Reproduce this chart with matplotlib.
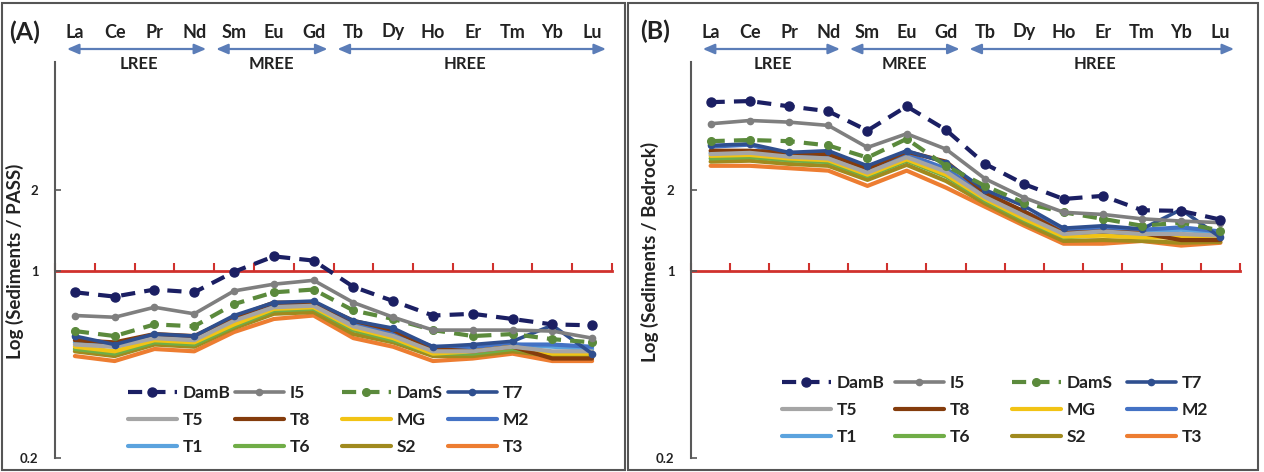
import numpy as np
import matplotlib
matplotlib.use('Agg')
import matplotlib.pyplot as plt
from matplotlib.patches import Rectangle
from matplotlib.transforms import blended_transform_factory

plt.rcParams['font.family'] = ['Lato', 'DejaVu Sans']

elements = ['La', 'Ce', 'Pr', 'Nd', 'Sm', 'Eu', 'Gd', 'Tb', 'Dy', 'Ho', 'Er', 'Tm', 'Yb', 'Lu']
series_names = ['DamB', 'I5', 'DamS', 'T7', 'T5', 'T8', 'MG', 'M2', 'T1', 'T6', 'S2', 'T3']
groups = ['LREE', 'MREE', 'HREE']

# Panel A: Sediments / PASS
a_DamB = [0.83, 0.80, 0.85, 0.83, 0.99, 1.13, 1.09, 0.87, 0.77, 0.68, 0.69, 0.66, 0.63, 0.625]
a_I5   = [0.68, 0.67, 0.73, 0.69, 0.84, 0.89, 0.92, 0.76, 0.67, 0.60, 0.60, 0.60, 0.595, 0.56]
a_DamS = [0.595, 0.57, 0.63, 0.62, 0.75, 0.83, 0.85, 0.71, 0.66, 0.60, 0.57, 0.58, 0.555, 0.54]
a_T7   = [0.57, 0.53, 0.58, 0.57, 0.68, 0.76, 0.77, 0.65, 0.61, 0.52, 0.53, 0.545, 0.625, 0.49]
a_T5   = [0.53, 0.52, 0.56, 0.55, 0.65, 0.73, 0.74, 0.62, 0.57, 0.50, 0.50, 0.52, 0.50, 0.50]
a_T8   = [0.55, 0.54, 0.58, 0.57, 0.67, 0.76, 0.76, 0.65, 0.60, 0.51, 0.50, 0.52, 0.47, 0.47]
a_MG   = [0.52, 0.50, 0.55, 0.54, 0.63, 0.72, 0.73, 0.61, 0.56, 0.49, 0.50, 0.52, 0.49, 0.49]
a_M2   = [0.56, 0.53, 0.57, 0.56, 0.66, 0.74, 0.75, 0.63, 0.59, 0.52, 0.52, 0.53, 0.53, 0.52]
a_T1   = [0.54, 0.52, 0.56, 0.55, 0.65, 0.73, 0.74, 0.62, 0.58, 0.51, 0.51, 0.53, 0.52, 0.51]
a_T6   = [0.51, 0.49, 0.54, 0.53, 0.62, 0.71, 0.72, 0.60, 0.55, 0.49, 0.49, 0.51, 0.49, 0.49]
a_S2   = [0.50, 0.48, 0.53, 0.52, 0.61, 0.69, 0.70, 0.58, 0.54, 0.48, 0.48, 0.50, 0.48, 0.48]
a_T3   = [0.48, 0.46, 0.51, 0.50, 0.59, 0.66, 0.68, 0.56, 0.52, 0.46, 0.47, 0.49, 0.46, 0.46]

# Panel B: Sediments / Bedrock
b_DamB = [4.25, 4.29, 4.10, 3.93, 3.33, 4.10, 3.35, 2.50, 2.10, 1.85, 1.90, 1.68, 1.67, 1.55]
b_I5   = [3.53, 3.63, 3.58, 3.48, 2.88, 3.24, 2.84, 2.20, 1.87, 1.65, 1.62, 1.56, 1.53, 1.51]
b_DamS = [3.04, 3.07, 3.04, 2.93, 2.64, 3.10, 2.46, 2.07, 1.79, 1.65, 1.56, 1.47, 1.51, 1.41]
b_T7   = [2.93, 2.97, 2.76, 2.80, 2.46, 2.80, 2.53, 2.00, 1.74, 1.44, 1.47, 1.43, 1.69, 1.33]
b_T5   = [2.72, 2.75, 2.66, 2.62, 2.32, 2.65, 2.34, 1.88, 1.60, 1.37, 1.40, 1.37, 1.37, 1.35]
b_T8   = [2.80, 2.80, 2.75, 2.72, 2.40, 2.78, 2.55, 1.95, 1.66, 1.38, 1.40, 1.38, 1.30, 1.30]
b_MG   = [2.68, 2.70, 2.62, 2.58, 2.28, 2.60, 2.28, 1.85, 1.56, 1.34, 1.35, 1.33, 1.33, 1.32]
b_M2   = [2.90, 2.95, 2.70, 2.68, 2.38, 2.72, 2.40, 1.92, 1.66, 1.42, 1.44, 1.42, 1.45, 1.40]
b_T1   = [2.75, 2.78, 2.68, 2.65, 2.35, 2.68, 2.36, 1.90, 1.62, 1.40, 1.45, 1.40, 1.42, 1.38]
b_T6   = [2.62, 2.65, 2.58, 2.54, 2.25, 2.57, 2.25, 1.82, 1.54, 1.33, 1.36, 1.33, 1.34, 1.33]
b_S2   = [2.55, 2.57, 2.50, 2.46, 2.18, 2.48, 2.16, 1.78, 1.50, 1.29, 1.30, 1.29, 1.27, 1.28]
b_T3   = [2.46, 2.46, 2.41, 2.36, 2.07, 2.36, 2.04, 1.73, 1.47, 1.26, 1.26, 1.29, 1.24, 1.27]

panel_a = dict(zip(series_names, [a_DamB, a_I5, a_DamS, a_T7, a_T5, a_T8, a_MG, a_M2, a_T1, a_T6, a_S2, a_T3]))
panel_b = dict(zip(series_names, [b_DamB, b_I5, b_DamS, b_T7, b_T5, b_T8, b_MG, b_M2, b_T1, b_T6, b_S2, b_T3]))

styles = {
    'DamB': dict(color='#1B1F63', lw=3.0, dashes=(3.4, 2.2), marker='o', ms=6.5),
    'I5':   dict(color='#7F7F7F', lw=2.6, marker='o', ms=4.5),
    'DamS': dict(color='#5B8A3C', lw=3.0, dashes=(3.4, 2.2), marker='o', ms=5.5),
    'T7':   dict(color='#2F4F8F', lw=2.6, marker='o', ms=4.5),
    'T5':   dict(color='#A5A5A5', lw=3.0),
    'T8':   dict(color='#843C0C', lw=3.0),
    'MG':   dict(color='#F2C314', lw=3.0),
    'M2':   dict(color='#4472C4', lw=3.0),
    'T1':   dict(color='#5BA3DE', lw=3.0),
    'T6':   dict(color='#70AD47', lw=3.0),
    'S2':   dict(color='#A08A1E', lw=3.0),
    'T3':   dict(color='#ED7D31', lw=3.0),
}

W, H = 1264, 472
fig = plt.figure(figsize=(W / 100, H / 100), dpi=100)


def fx(px):
    return px / W


def fy(py):
    return 1 - py / H


def make_panel(left_px, right_px, data, letter, letter_xy, ylabel, ylabel_xy,
               leg_cols_px, leg_rows_px):
    ax = fig.add_axes([fx(left_px), fy(458), fx(right_px - left_px), (458 - 62) / H])
    x = np.arange(len(elements))
    lines = {}
    for name in series_names[::-1]:
        st = dict(styles[name])
        kw = dict(color=st['color'], lw=st['lw'], solid_capstyle='round',
                  solid_joinstyle='round')
        if 'dashes' in st:
            kw['dashes'] = st['dashes']
        if 'marker' in st:
            kw['marker'] = st['marker']
            kw['ms'] = st['ms']
            kw['mfc'] = st['color']
            kw['mec'] = st['color']
        ln, = ax.plot(x, data[name], label=name, **kw)
        lines[name] = ln
    ax.set_yscale('log')
    ax.set_ylim(0.2, 6.0)
    ax.set_xlim(-0.5, len(elements) - 0.5)
    ax.set_yticks([0.2, 1, 2])
    ax.set_yticklabels(['0.2', '1', '2'])
    ax.yaxis.set_minor_locator(matplotlib.ticker.NullLocator())
    ax.tick_params(axis='y', direction='in', length=4, width=1.2, color='#595959',
                   labelsize=9.5, pad=12)
    for lab in ax.get_yticklabels():
        lab.set_fontweight('bold')
        lab.set_color('#222222')
    ax.spines['top'].set_visible(False)
    ax.spines['right'].set_visible(False)
    ax.spines['left'].set_color('#595959')
    ax.spines['left'].set_linewidth(1.5)
    ax.spines['bottom'].set_position(('data', 1))
    ax.spines['bottom'].set_color('#D0312D')
    ax.spines['bottom'].set_linewidth(2.0)
    ax.spines['bottom'].set_zorder(0.5)
    ax.set_xticks(np.arange(-0.5, len(elements), 1.0))
    ax.tick_params(axis='x', direction='in', length=6, width=1.5, color='#D0312D',
                   labelbottom=False)
    ax.patch.set_alpha(0)

    tr = blended_transform_factory(ax.transData, ax.transAxes)
    y_el = (458 - 32) / (458 - 62)
    y_arr = (458 - 49) / (458 - 62)
    y_grp = (458 - 64) / (458 - 62)
    for i, el in enumerate(elements):
        ax.text(i, y_el, el, transform=tr, ha='center', va='center',
                fontsize=13, fontweight='bold', color='#222222', clip_on=False)
    spans = [(-0.2, 3.3, 1.6), (3.55, 6.35, 4.95), (6.6, 13.35, 9.8)]
    for (x0, x1, xc), g in zip(spans, groups):
        ax.annotate('', xy=(x1, y_arr), xytext=(x0, y_arr), xycoords=tr, textcoords=tr,
                    arrowprops=dict(arrowstyle='<|-|>,head_length=0.7,head_width=0.3',
                                    color='#5B7DB8', lw=1.6, shrinkA=0, shrinkB=0),
                    annotation_clip=False)
        ax.text(xc, y_grp, g, transform=tr, ha='center', va='center',
                fontsize=12, fontweight='bold', color='#222222', clip_on=False)

    fig.text(fx(letter_xy[0]), fy(letter_xy[1]), letter, ha='center', va='center',
             fontsize=18, fontweight='bold', color='#222222')
    fig.text(fx(ylabel_xy[0]), fy(ylabel_xy[1]), ylabel, ha='center', va='center',
             rotation=90, fontsize=13.5, fontweight='bold', color='#222222')

    for c in range(4):
        names = [series_names[c + 4 * r] for r in range(3)]
        hs = [lines[n] for n in names]
        leg = fig.legend(hs, names, loc='center left',
                         bbox_to_anchor=(fx(leg_cols_px[c]), fy(leg_rows_px[1])),
                         frameon=False, borderpad=0, borderaxespad=0,
                         handlelength=2.8, handletextpad=0.35, labelspacing=0.62,
                         prop=dict(size=12.5, weight='bold'), numpoints=1)
        for t in leg.get_texts():
            t.set_color('#222222')
    return ax


make_panel(55, 612, panel_a, '(A)', (25, 32), 'Log (Sediments / PASS)', (15, 261),
           [128, 235, 342, 448], [390, 420, 450])
make_panel(691, 1240, panel_b, '(B)', (655, 31), 'Log (Sediments / Bedrock)', (650, 252),
           [782, 895, 1012, 1127], [381, 410, 440])

# panel frames
fig.patches.append(Rectangle((fx(2), fy(470)), fx(623), (467) / H, transform=fig.transFigure,
                             fill=False, edgecolor='#555555', lw=1.5))
fig.patches.append(Rectangle((fx(628), fy(470)), fx(630), (467) / H, transform=fig.transFigure,
                             fill=False, edgecolor='#555555', lw=1.5))

fig.savefig('out.png', dpi=100, facecolor='white')
